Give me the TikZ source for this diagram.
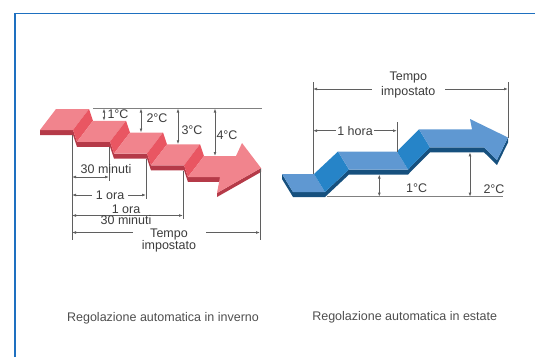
\documentclass[tikz,border=0pt]{standalone}
\usepackage{fontspec}
\setmainfont{Liberation Sans}
\usetikzlibrary{arrows.meta, positioning}

\definecolor{wtop}{RGB}{241,132,141}
\definecolor{wrise}{RGB}{233,86,98}
\definecolor{wdark}{RGB}{181,58,72}
\definecolor{stop}{RGB}{95,152,210}
\definecolor{srise}{RGB}{38,132,200}
\definecolor{sdark}{RGB}{22,80,126}
\definecolor{frameblue}{RGB}{30,112,192}
\definecolor{dimgray}{RGB}{95,95,95}
\definecolor{basegray}{RGB}{128,128,128}
\definecolor{txtgray}{RGB}{60,60,60}
\definecolor{capgray}{RGB}{78,78,78}

\tikzset{
	lbl/.style={font=\fontsize{12.5}{12.5}\selectfont, text=txtgray, inner sep=0pt},
	captxt/.style={font=\fontsize{12.5}{14}\selectfont, text=capgray, inner sep=0pt},
	dim/.style={draw=dimgray, line width=0.7pt, {Latex[length=4pt,width=2.8pt]}-{Latex[length=4pt,width=2.8pt]}},
	guide/.style={draw=dimgray, line width=0.7pt},
	refline/.style={draw=basegray, line width=1.1pt},
	frameline/.style={draw=frameblue, line width=1.4pt}
}

\begin{document}
\begin{tikzpicture}[x=1pt, y=-1pt]
	\useasboundingbox (0,0) rectangle (535,357);
	\draw[frameline] (15,357) -- (15,13.5) -- (535,13.5);

	% winter: staircase going down
	\foreach \k [evaluate=\k as \xa using 56+37*\k, evaluate=\k as \ya using 109+11.75*\k] in {0,...,3} {
		\fill[wdark] (\xa-16,\ya+21) -- ++(33,0) -- ++(4,11.75) -- ++(0,5) -- ++(-4,-11.75) -- ++(-33,0) -- cycle;
		\fill[wtop] (\xa,\ya) -- ++(33,0) -- ++(-16,21) -- ++(-33,0) -- cycle;
		\fill[wrise] (\xa+33,\ya) -- ++(4,11.75) -- ++(-16,21) -- ++(-4,-11.75) -- cycle;
	}
	\fill[wdark] (188,177) -- (220,177) -- (220,182) -- (188,182) -- cycle;
	\fill[wdark] (261,168) -- (217,193) -- (217,197) -- (261,172) -- cycle;
	\fill[wtop] (204,156) -- (236,156) -- (242,143) -- (261,168) -- (217,193) -- (220,177) -- (188,177) -- cycle;

	% summer: staircase going up
	\fill[sdark] (282,174) -- (293,192) -- (325,192) -- (349,169.5) -- (408,169.5) -- (430,147.3) -- (484,147.3) -- (497,160) -- (508,137.5)
		-- (508,142.5) -- (497,165) -- (484,152.3) -- (430,152.3) -- (408,174.5) -- (349,174.5) -- (325,197) -- (293,197) -- (282,179) -- cycle;
	\fill[stop] (282,174) -- (314,174) -- (325,192) -- (293,192) -- cycle;
	\fill[srise] (314,174) -- (338,151.5) -- (349,169.5) -- (325,192) -- cycle;
	\fill[stop] (338,151.5) -- (397,151.5) -- (408,169.5) -- (349,169.5) -- cycle;
	\fill[srise] (397,151.5) -- (419,129.3) -- (430,147.3) -- (408,169.5) -- cycle;
	\fill[stop] (419,129.3) -- (472,129.3) -- (470,119) -- (508,137.5) -- (497,160) -- (484,147.3) -- (430,147.3) -- cycle;

	% winter: time
	\coordinate (w0) at (72,135);
	\coordinate (w1) at (109,147);
	\coordinate (w2) at (146,158.5);
	\coordinate (w3) at (183,170.5);
	\coordinate (w4) at (260,169);
	\coordinate (w0e) at (72,240);
	\coordinate (w1e) at (109,180.5);
	\coordinate (w2e) at (146,198.5);
	\coordinate (w3e) at (183,219);
	\coordinate (w4e) at (260,240);
	\foreach \w in {w0,w1,w2,w3,w4}
		\draw[guide] (\w) -- (\w e);

	\coordinate (ya) at (0,177);
	\coordinate (yb) at (0,195);
	\coordinate (yc) at (0,215.5);
	\coordinate (yd) at (0,232.5);
	\draw[dim] (w0 |- ya) -- (w1 |- ya);
	\draw[dim] (w0 |- yb) -- (w2 |- yb);
	\draw[dim] (w0 |- yc) -- (w3 |- yc);
	\draw[dim] (w0 |- yd) -- (w4 |- yd);

	\node[lbl] (min30) at (106,169.5) {30 minuti};
	\node[lbl, fill=white, inner xsep=3.5pt] (ora1) at (110,195) {1 ora};
	\node[lbl, align=center] (ora130) at (126,215) {1 ora\\[-1.5pt]30 minuti};
	\node[lbl, align=center, fill=white, minimum width=73pt] (tempoW) at (169,240.6) {Tempo\\impostato};

	% winter: temperature
	\coordinate (t0) at (93,108.5);
	\coordinate (t9) at (262,108.5);
	\draw[refline] (t0) -- (t9);
	\coordinate (s1) at (104,120.75);
	\coordinate (s2) at (141,132.5);
	\coordinate (s3) at (178,144.25);
	\coordinate (s4) at (215,156);
	\foreach \s in {s1,s2,s3,s4}
		\draw[dim] (\s |- t0) -- (\s);
	\node[lbl] (deg1) at (118,114) {1°C};
	\node[lbl] (deg2) at (157,118) {2°C};
	\node[lbl] (deg3) at (192,130) {3°C};
	\node[lbl] (deg4) at (227,135) {4°C};

	% summer: time
	\coordinate (e0) at (313,82);
	\coordinate (e0b) at (313,174);
	\coordinate (e1) at (397,122);
	\coordinate (e1b) at (397,151.5);
	\coordinate (e2) at (508,82);
	\coordinate (e2b) at (508,137.5);
	\draw[guide] (e0) -- (e0b);
	\draw[guide] (e1) -- (e1b);
	\draw[guide] (e2) -- (e2b);
	\coordinate (yt) at (0,89);
	\coordinate (yh) at (0,130.7);
	\draw[dim] (e0 |- yt) -- (e2 |- yt);
	\draw[dim] (e0 |- yh) -- (e1 |- yh);
	\node[lbl, align=center, fill=white, minimum width=73pt] (tempoS) at (408.3,85.2) {Tempo\\[2.8pt]impostato};
	\node[lbl, fill=white, inner xsep=1pt] (hora1) at (355,130.7) {1 hora};

	% summer: temperature
	\coordinate (b0) at (327,196.7);
	\coordinate (b9) at (503,196.7);
	\draw[refline] (b0) -- (b9);
	\coordinate (h1) at (379.3,174.5);
	\coordinate (h2) at (470,152.3);
	\draw[dim] (h1) -- (h1 |- b0);
	\draw[dim] (h2) -- (h2 |- b0);
	\node[lbl] (sdeg1) at (416.7,188.3) {1°C};
	\node[lbl] (sdeg2) at (494,189.3) {2°C};

	% captions
	\node[captxt] (capW) at (163,318) {Regolazione automatica in inverno};
	\node[captxt] (capS) at (404.7,317) {Regolazione automatica in estate};
\end{tikzpicture}
\end{document}
